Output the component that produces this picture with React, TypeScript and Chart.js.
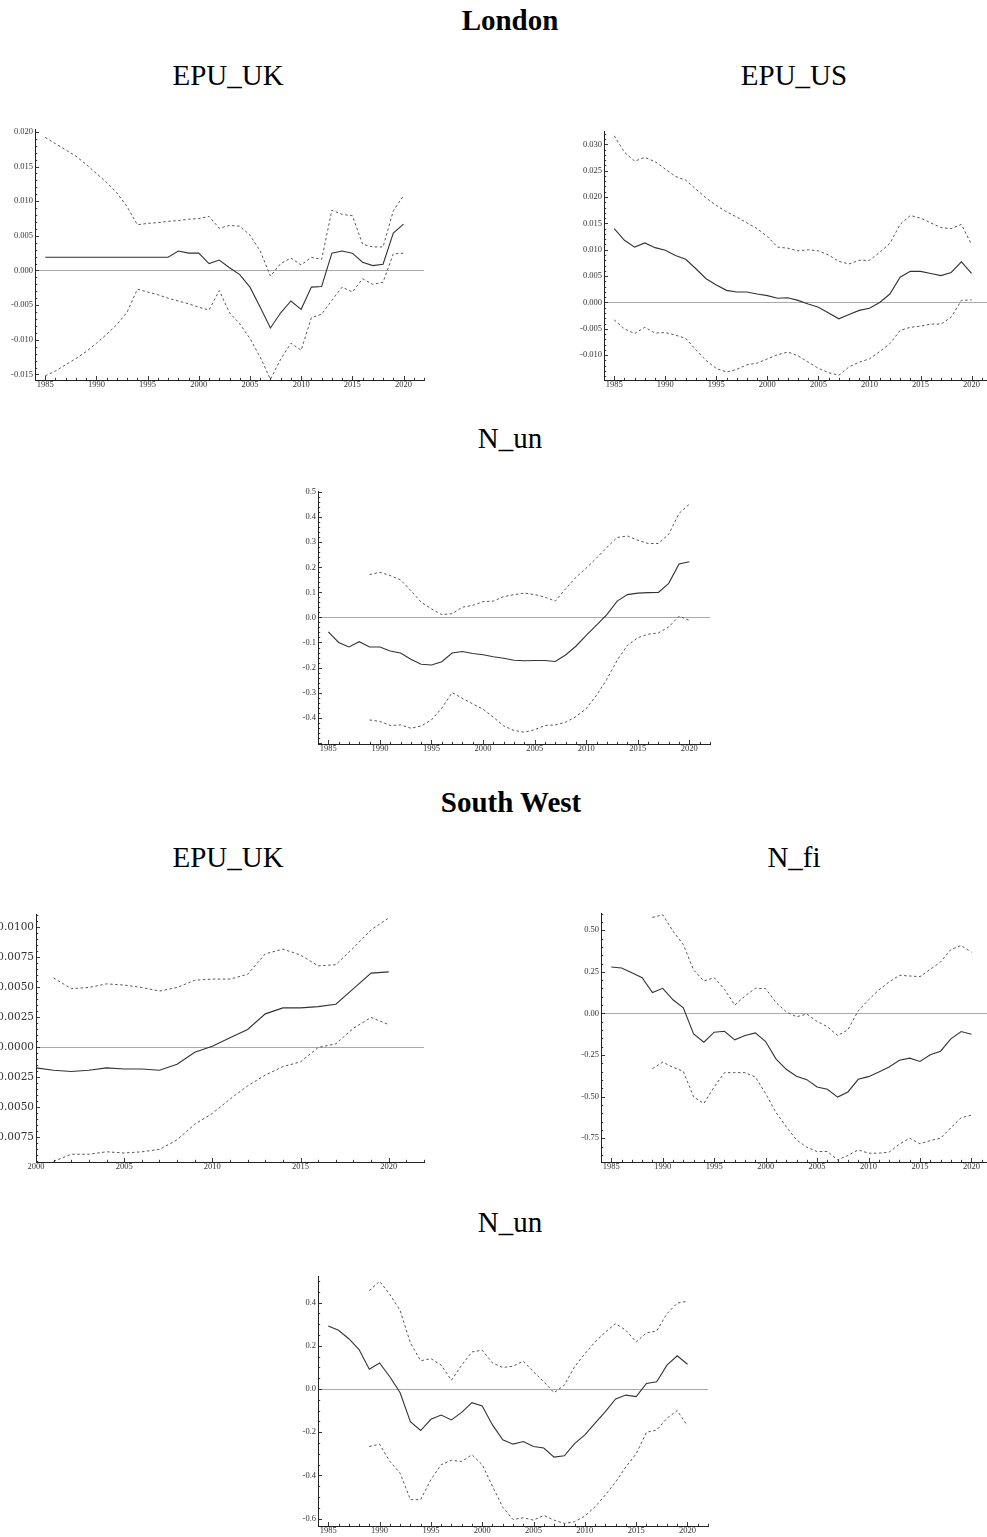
import React, { useEffect, useRef } from "react";
import { Chart, registerables } from "chart.js";

Chart.register(...registerables);

// ---------- data ----------
const YEARS_1985 = [
  1985, 1986, 1987, 1988, 1989, 1990, 1991, 1992, 1993, 1994, 1995, 1996,
  1997, 1998, 1999, 2000, 2001, 2002, 2003, 2004, 2005, 2006, 2007, 2008,
  2009, 2010, 2011, 2012, 2013, 2014, 2015, 2016, 2017, 2018, 2019, 2020,
];
const YEARS_2000 = [
  2000, 2001, 2002, 2003, 2004, 2005, 2006, 2007, 2008, 2009, 2010, 2011,
  2012, 2013, 2014, 2015, 2016, 2017, 2018, 2019, 2020,
];
const YEAR_TICKS_1985 = [1985, 1990, 1995, 2000, 2005, 2010, 2015, 2020];
const YEAR_TICKS_2000 = [2000, 2005, 2010, 2015, 2020];

// London — EPU_UK
const LON_EPU_UK_EST = [
  0.0019, 0.0019, 0.0019, 0.0019, 0.0019, 0.0019, 0.0019, 0.0019, 0.0019, 0.0019, 0.0019, 0.0019,
  0.0019, 0.0028, 0.0025, 0.0025, 0.001, 0.0015, 0.0004, -0.0006, -0.0024, -0.0053, -0.0083, -0.0061,
  -0.0044, -0.0056, -0.0024, -0.0023, 0.0025, 0.0028, 0.0025, 0.0012, 0.0007, 0.0009, 0.0054, 0.0067,
];
const LON_EPU_UK_UP = [
  0.0192, 0.0183, 0.0174, 0.0165, 0.0153, 0.014, 0.0127, 0.0112, 0.0092, 0.0066, 0.0068, 0.0069,
  0.0071, 0.0072, 0.0074, 0.0075, 0.0078, 0.0061, 0.0065, 0.0064, 0.0051, 0.0028, -0.0008, 0.001,
  0.0018, 0.0008, 0.0019, 0.0016, 0.0087, 0.0081, 0.0079, 0.0038, 0.0034, 0.0034, 0.0086, 0.0108,
];
const LON_EPU_UK_LO = [
  -0.0152, -0.0145, -0.0136, -0.0127, -0.0117, -0.0105, -0.0092, -0.0078, -0.006, -0.0027, -0.0031, -0.0035,
  -0.004, -0.0044, -0.0048, -0.0053, -0.0057, -0.0029, -0.0061, -0.0077, -0.0098, -0.0125, -0.0157, -0.0128,
  -0.0105, -0.0115, -0.0068, -0.0063, -0.0043, -0.0024, -0.0031, -0.0012, -0.002, -0.0017, 0.0024, 0.0025,
];
const LON_EPU_UK_YTICKS = [-0.015, -0.01, -0.005, 0, 0.005, 0.01, 0.015, 0.02];

// London — EPU_US
const LON_EPU_US_EST = [
  0.014, 0.0118, 0.0105, 0.0113, 0.0104, 0.0099, 0.0089, 0.0082, 0.0064, 0.0045, 0.0033, 0.0023,
  0.002, 0.002, 0.0016, 0.0013, 0.0008, 0.0009, 0.0004, -0.0003, -0.0009, -0.002, -0.0031, -0.0023,
  -0.0015, -0.0011, 0.0, 0.0016, 0.0048, 0.0059, 0.0059, 0.0055, 0.0051, 0.0057, 0.0077, 0.0055,
];
const LON_EPU_US_UP = [
  0.0316, 0.0285, 0.0268, 0.0275, 0.0267, 0.0253, 0.0239, 0.0232, 0.0215, 0.0198, 0.0184, 0.0172,
  0.0162, 0.0151, 0.014, 0.0125, 0.0105, 0.0103, 0.0098, 0.01, 0.0098, 0.009, 0.0078, 0.0073,
  0.008, 0.008, 0.0095, 0.0112, 0.0148, 0.0165, 0.016, 0.0151, 0.0142, 0.014, 0.0148, 0.011,
];
const LON_EPU_US_LO = [
  -0.0033, -0.005, -0.0059, -0.0047, -0.0058, -0.0057, -0.0062, -0.0068, -0.009, -0.011, -0.0125, -0.0132,
  -0.0127, -0.0118, -0.0115, -0.0107, -0.0099, -0.0094, -0.0101, -0.0113, -0.0125, -0.0133, -0.0138, -0.0122,
  -0.0113, -0.0107, -0.0093, -0.0078, -0.0053, -0.0047, -0.0045, -0.0041, -0.0041, -0.0028, 0.0004, 0.0005,
];
const LON_EPU_US_YTICKS = [-0.01, -0.005, 0, 0.005, 0.01, 0.015, 0.02, 0.025, 0.03];

// London — N_un
const LON_NUN_EST = [
  -0.058, -0.1, -0.118, -0.097, -0.118, -0.118, -0.134, -0.142, -0.167, -0.187, -0.19, -0.177,
  -0.142, -0.136, -0.144, -0.149, -0.157, -0.163, -0.171, -0.173, -0.172, -0.172, -0.176, -0.15,
  -0.115, -0.072, -0.031, 0.011, 0.065, 0.091, 0.097, 0.099, 0.1, 0.136, 0.213, 0.222,
];
const LON_NUN_UP = [
  null, null, null, null, 0.171, 0.18, 0.167, 0.15, 0.107, 0.061, 0.034, 0.011,
  0.015, 0.041, 0.048, 0.063, 0.065, 0.083, 0.091, 0.097, 0.091, 0.081, 0.065, 0.114,
  0.16, 0.197, 0.237, 0.279, 0.319, 0.325, 0.308, 0.295, 0.295, 0.332, 0.415, 0.452,
];
const LON_NUN_LO = [
  null, null, null, null, -0.409, -0.415, -0.431, -0.429, -0.442, -0.433, -0.409, -0.362,
  -0.3, -0.323, -0.345, -0.366, -0.398, -0.433, -0.451, -0.458, -0.448, -0.431, -0.429, -0.418,
  -0.396, -0.364, -0.31, -0.247, -0.171, -0.111, -0.081, -0.067, -0.062, -0.038, 0.005, -0.012,
];
const LON_NUN_YTICKS = [-0.4, -0.3, -0.2, -0.1, 0, 0.1, 0.2, 0.3, 0.4, 0.5];

// South West — EPU_UK
const SW_EPU_UK_EST = [
  -0.0017, -0.0019, -0.002, -0.0019, -0.0017, -0.0018, -0.0018, -0.0019, -0.0014, -0.0004, 0.0001,
  0.0008, 0.0015, 0.0028, 0.0033, 0.0033, 0.0034, 0.0036, 0.0049, 0.0062, 0.0063,
];
const SW_EPU_UK_UP = [
  null, 0.0058, 0.0049, 0.005, 0.0053, 0.0052, 0.005, 0.0047, 0.005, 0.0056, 0.0057,
  0.0057, 0.0061, 0.0078, 0.0082, 0.0077, 0.0068, 0.0069, 0.0083, 0.0098, 0.0108,
];
const SW_EPU_UK_LO = [
  null, -0.0095, -0.0089, -0.0089, -0.0087, -0.0088, -0.0087, -0.0085, -0.0077, -0.0064, -0.0055,
  -0.0043, -0.0032, -0.0023, -0.0016, -0.0012, 0.0, 0.0003, 0.0016, 0.0025, 0.0019,
];
const SW_EPU_UK_YTICKS = [-0.0075, -0.005, -0.0025, 0, 0.0025, 0.005, 0.0075, 0.01];

// South West — N_fi
const SW_NFI_EST = [
  0.279, 0.273, 0.245, 0.215, 0.125, 0.151, 0.082, 0.034, -0.123, -0.173, -0.113, -0.107,
  -0.159, -0.133, -0.117, -0.169, -0.273, -0.336, -0.378, -0.398, -0.442, -0.456, -0.503, -0.472,
  -0.396, -0.38, -0.352, -0.322, -0.281, -0.269, -0.289, -0.249, -0.227, -0.153, -0.109, -0.125,
];
const SW_NFI_UP = [
  null, null, null, null, 0.577, 0.593, 0.494, 0.414, 0.261, 0.195, 0.215, 0.145,
  0.05, 0.105, 0.151, 0.149, 0.066, 0.01, -0.02, -0.004, -0.048, -0.08, -0.133, -0.098,
  0.016, 0.082, 0.141, 0.189, 0.229, 0.225, 0.221, 0.265, 0.309, 0.384, 0.408, 0.368,
];
const SW_NFI_LO = [
  null, null, null, null, -0.332, -0.293, -0.324, -0.348, -0.502, -0.541, -0.442, -0.356,
  -0.356, -0.356, -0.382, -0.482, -0.595, -0.681, -0.76, -0.804, -0.83, -0.83, -0.88, -0.854,
  -0.82, -0.84, -0.84, -0.834, -0.786, -0.75, -0.784, -0.764, -0.75, -0.687, -0.627, -0.611,
];
const SW_NFI_YTICKS = [-0.75, -0.5, -0.25, 0, 0.25, 0.5];

// South West — N_un
const SW_NUN_EST = [
  0.292, 0.272, 0.233, 0.183, 0.092, 0.121, 0.057, -0.017, -0.151, -0.192, -0.14, -0.12,
  -0.143, -0.108, -0.063, -0.078, -0.166, -0.235, -0.255, -0.243, -0.266, -0.273, -0.315, -0.309,
  -0.253, -0.212, -0.158, -0.104, -0.046, -0.028, -0.035, 0.026, 0.034, 0.111, 0.154, 0.115,
];
const SW_NUN_UP = [
  null, null, null, null, 0.456, 0.499, 0.438, 0.364, 0.214, 0.131, 0.141, 0.111,
  0.041, 0.111, 0.172, 0.18, 0.121, 0.1, 0.106, 0.129, 0.08, 0.034, -0.017, 0.018,
  0.103, 0.164, 0.218, 0.264, 0.303, 0.272, 0.218, 0.26, 0.269, 0.349, 0.398, 0.407,
];
const SW_NUN_LO = [
  null, null, null, null, -0.266, -0.255, -0.335, -0.389, -0.512, -0.512, -0.419, -0.35,
  -0.33, -0.335, -0.304, -0.35, -0.45, -0.547, -0.604, -0.596, -0.607, -0.585, -0.607, -0.622,
  -0.614, -0.588, -0.545, -0.49, -0.43, -0.36, -0.3, -0.2, -0.19, -0.135, -0.1, -0.17,
];
const SW_NUN_YTICKS = [-0.6, -0.4, -0.2, 0, 0.2, 0.4];

// ---------- styling ----------
const SERIF = "'Liberation Serif', 'Times New Roman', serif";
const Y_W = 50; // y-axis box width
const X_H = 14; // x-axis box height
const PAD_T = 6;
const PAD_R = 8;
const AXIS = "#222";
const LABEL = "#333";
const ZERO = "#a9a9a9";
const EST_COLOR = "#333";
const BAND_COLOR = "#555";

type Series = (number | null)[];
type PanelSpec = {
  years: number[];
  est: Series;
  up: Series;
  lo: Series;
  xMin: number;
  xMax: number;
  xTicks: number[];
  yMin: number;
  yMax: number;
  yTicks: number[];
  yMajor: number;
  yMinor: number;
  decimals: number;
  box: [number, number, number, number]; // frame left, top, right, bottom
  yFont?: { family: string; size: number };
};

// Mathematica-style inward tick marks (major + minor) on the left and bottom axes
const innerTicks = {
  id: "innerTicks",
  afterDraw(chart: any, _args: any, opts: any) {
    const { ctx, chartArea, scales } = chart;
    ctx.save();
    ctx.strokeStyle = AXIS;
    ctx.lineWidth = 0.9;
    ctx.beginPath();
    const mark = (scale: any, step: number, majorStep: number, horizontal: boolean) => {
      const k0 = Math.ceil(scale.min / step - 1e-9);
      const k1 = Math.floor(scale.max / step + 1e-9);
      for (let k = k0; k <= k1; k++) {
        const v = k * step;
        const r = v / majorStep;
        const major = Math.abs(r - Math.round(r)) < 1e-6;
        const len = major ? 4 : 2.2;
        const p = Math.round(scale.getPixelForValue(v)) + 0.5;
        if (horizontal) {
          ctx.moveTo(p, chartArea.bottom);
          ctx.lineTo(p, chartArea.bottom - len);
        } else {
          ctx.moveTo(chartArea.left, p);
          ctx.lineTo(chartArea.left + len, p);
        }
      }
    };
    mark(scales.x, 1, 5, true);
    mark(scales.y, opts.yMinor, opts.yMajor, false);
    ctx.stroke();
    ctx.restore();
  },
};

function toPoints(years: number[], vals: Series) {
  const pts: { x: number; y: number }[] = [];
  years.forEach((yr, i) => {
    const v = vals[i];
    if (v !== null && v !== undefined) pts.push({ x: yr, y: v });
  });
  return pts;
}

function Panel({ spec }: { spec: PanelSpec }) {
  const ref = useRef<HTMLCanvasElement>(null);
  const [L, T, R, B] = spec.box;
  const width = R - L + Y_W + PAD_R;
  const height = B - T + PAD_T + X_H;

  useEffect(() => {
    if (!ref.current) return;
    const tickFont = { family: SERIF, size: 8.5 };
    const chart = new Chart(ref.current, {
      type: "line",
      data: {
        datasets: [
          {
            data: toPoints(spec.years, spec.up),
            borderColor: BAND_COLOR,
            borderWidth: 1,
            borderDash: [2.5, 2.5],
            pointRadius: 0,
            fill: false,
          },
          {
            data: toPoints(spec.years, spec.lo),
            borderColor: BAND_COLOR,
            borderWidth: 1,
            borderDash: [2.5, 2.5],
            pointRadius: 0,
            fill: false,
          },
          {
            data: toPoints(spec.years, spec.est),
            borderColor: EST_COLOR,
            borderWidth: 1.1,
            pointRadius: 0,
            fill: false,
          },
        ],
      },
      options: {
        responsive: false,
        animation: false,
        events: [],
        layout: { padding: { top: PAD_T, right: PAD_R, left: 0, bottom: 0 } },
        plugins: {
          legend: { display: false },
          tooltip: { enabled: false },
          innerTicks: { yMinor: spec.yMinor, yMajor: spec.yMajor },
        } as any,
        scales: {
          x: {
            type: "linear",
            bounds: "data",
            min: spec.xMin,
            max: spec.xMax,
            afterBuildTicks: (s: any) => {
              s.ticks = spec.xTicks.map((v) => ({ value: v }));
            },
            afterFit: (s: any) => {
              s.height = X_H;
            },
            grid: { display: false, drawTicks: false },
            border: { display: true, color: AXIS, width: 1 },
            ticks: {
              padding: 0,
              color: LABEL,
              font: tickFont,
              maxRotation: 0,
              autoSkip: false,
              callback: (v: any) => String(v),
            },
          },
          y: {
            type: "linear",
            bounds: "data",
            min: spec.yMin,
            max: spec.yMax,
            afterBuildTicks: (s: any) => {
              s.ticks = spec.yTicks.map((v) => ({ value: v }));
            },
            afterFit: (s: any) => {
              s.width = Y_W;
            },
            grid: {
              display: true,
              drawTicks: false,
              lineWidth: 1,
              color: (c: any) =>
                c.tick && Math.abs(c.tick.value) < 1e-12 ? ZERO : "rgba(0,0,0,0)",
            },
            border: { display: true, color: AXIS, width: 1 },
            ticks: {
              padding: 2,
              color: LABEL,
              font: spec.yFont || tickFont,
              autoSkip: false,
              callback: (v: any) => Number(v).toFixed(spec.decimals),
            },
          },
        },
      },
      plugins: [innerTicks as any],
    });
    return () => chart.destroy();
  }, [spec]);

  return (
    <canvas
      ref={ref}
      width={width}
      height={height}
      style={{ position: "absolute", left: L - Y_W, top: T - PAD_T, width, height }}
    />
  );
}

const PANELS: PanelSpec[] = [
  {
    years: YEARS_1985, est: LON_EPU_UK_EST, up: LON_EPU_UK_UP, lo: LON_EPU_UK_LO,
    xMin: 1984, xMax: 2022, xTicks: YEAR_TICKS_1985,
    yMin: -0.0158, yMax: 0.0204, yTicks: LON_EPU_UK_YTICKS, yMajor: 0.005, yMinor: 0.001, decimals: 3,
    box: [35, 128, 424, 380],
  },
  {
    years: YEARS_1985, est: LON_EPU_US_EST, up: LON_EPU_US_UP, lo: LON_EPU_US_LO,
    xMin: 1984, xMax: 2022, xTicks: YEAR_TICKS_1985,
    yMin: -0.0147, yMax: 0.0325, yTicks: LON_EPU_US_YTICKS, yMajor: 0.005, yMinor: 0.001, decimals: 3,
    box: [604, 130, 992, 380],
  },
  {
    years: YEARS_1985, est: LON_NUN_EST, up: LON_NUN_UP, lo: LON_NUN_LO,
    xMin: 1984, xMax: 2022, xTicks: YEAR_TICKS_1985,
    yMin: -0.505, yMax: 0.504, yTicks: LON_NUN_YTICKS, yMajor: 0.1, yMinor: 0.02, decimals: 1,
    box: [318, 490, 710, 744],
  },
  {
    years: YEARS_2000, est: SW_EPU_UK_EST, up: SW_EPU_UK_UP, lo: SW_EPU_UK_LO,
    xMin: 2000, xMax: 2022, xTicks: YEAR_TICKS_2000,
    yMin: -0.00955, yMax: 0.0111, yTicks: SW_EPU_UK_YTICKS, yMajor: 0.0025, yMinor: 0.0005, decimals: 4,
    box: [36, 912, 424, 1162],
    yFont: { family: "'DejaVu Serif', serif", size: 10.5 },
  },
  {
    years: YEARS_1985, est: SW_NFI_EST, up: SW_NFI_UP, lo: SW_NFI_LO,
    xMin: 1984, xMax: 2022, xTicks: YEAR_TICKS_1985,
    yMin: -0.893, yMax: 0.603, yTicks: SW_NFI_YTICKS, yMajor: 0.25, yMinor: 0.05, decimals: 2,
    box: [601, 912, 992, 1162],
  },
  {
    years: YEARS_1985, est: SW_NUN_EST, up: SW_NUN_UP, lo: SW_NUN_LO,
    xMin: 1984, xMax: 2022, xTicks: YEAR_TICKS_1985,
    yMin: -0.634, yMax: 0.523, yTicks: SW_NUN_YTICKS, yMajor: 0.2, yMinor: 0.05, decimals: 1,
    box: [318, 1275, 708, 1526],
  },
];

const HEADINGS: { text: string; cx: number; cy: number; bold: boolean }[] = [
  { text: "London", cx: 510, cy: 20, bold: true },
  { text: "EPU_UK", cx: 228, cy: 75, bold: false },
  { text: "EPU_US", cx: 794, cy: 75, bold: false },
  { text: "N_un", cx: 510, cy: 438, bold: false },
  { text: "South West", cx: 511, cy: 802, bold: true },
  { text: "EPU_UK", cx: 228, cy: 857, bold: false },
  { text: "N_fi", cx: 794, cy: 857, bold: false },
  { text: "N_un", cx: 510, cy: 1222, bold: false },
];

export default function App() {
  return (
    <div
      style={{
        position: "absolute",
        left: 0,
        top: 0,
        width: 987,
        height: 1537,
        overflow: "hidden",
        background: "#fff",
      }}
    >
      {HEADINGS.map((h, i) => (
        <div
          key={i}
          style={{
            position: "absolute",
            left: h.cx,
            top: h.cy,
            transform: "translate(-50%, -50%)",
            fontFamily: SERIF,
            fontSize: 29,
            fontWeight: h.bold ? "bold" : "normal",
            lineHeight: 1,
            whiteSpace: "nowrap",
            color: "#000",
          }}
        >
          {h.text}
        </div>
      ))}
      {PANELS.map((p, i) => (
        <Panel key={i} spec={p} />
      ))}
    </div>
  );
}
